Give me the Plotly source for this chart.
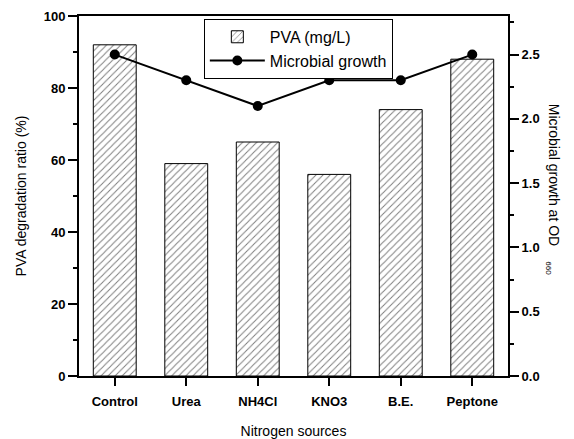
import plotly.graph_objects as go

categories = ["Control", "Urea", "NH4Cl", "KNO3", "B.E.", "Peptone"]
pva_degradation = [92, 59, 65, 56, 74, 88]
microbial_growth = [2.5, 2.3, 2.1, 2.3, 2.3, 2.5]

fig = go.Figure()
fig.add_trace(go.Bar(
    x=categories, y=pva_degradation, name="PVA (mg/L)", width=0.6,
    marker=dict(color="white", line=dict(color="black", width=1),
                pattern=dict(shape="/", fgcolor="black", bgcolor="white", size=5, solidity=0.2)),
    yaxis="y"))
fig.add_trace(go.Scatter(
    x=categories, y=microbial_growth, name="Microbial growth", mode="lines+markers",
    line=dict(color="black", width=2), marker=dict(color="black", size=10, symbol="circle"),
    yaxis="y2"))

tickfont = dict(family="Liberation Sans", size=13, color="black", weight="bold")
titlefont = dict(family="Liberation Sans", size=14, color="black")
fig.update_layout(
    width=574, height=439,
    margin=dict(l=79, r=66, t=16, b=63),
    plot_bgcolor="white", paper_bgcolor="white",
    showlegend=True,
    legend=dict(x=0.291, y=0.992, xanchor="left", yanchor="top",
                bordercolor="black", borderwidth=1, bgcolor="white",
                font=dict(family="Liberation Sans", size=16, color="black"),
                tracegroupgap=0, itemwidth=55),
    xaxis=dict(range=[-0.5, 5.5], showline=True, linecolor="black", linewidth=2, mirror=True,
               ticks="outside", ticklen=8, tickwidth=2, tickcolor="black", tickfont=tickfont,
               ticklabelstandoff=4,
               title=dict(text="Nitrogen sources", font=titlefont, standoff=22),
               showgrid=False, automargin=False),
    yaxis=dict(range=[0, 100], dtick=20, showline=True, linecolor="black", linewidth=2,
               ticks="outside", ticklen=9, tickwidth=2, tickcolor="black", tickfont=tickfont,
               minor=dict(ticks="outside", ticklen=4, dtick=10, tickcolor="black"),
               title=dict(text="PVA degradation ratio (%)", font=titlefont, standoff=14),
               showgrid=False, zeroline=False, automargin=False),
    yaxis2=dict(range=[0, 2.8], tickvals=[0, 0.5, 1.0, 1.5, 2.0, 2.5],
                ticktext=["0.0", "0.5", "1.0", "1.5", "2.0", "2.5"],
                overlaying="y", side="right", showline=True, linecolor="black", linewidth=2,
                ticks="outside", ticklen=9, tickwidth=2, tickcolor="black", tickfont=tickfont,
                minor=dict(ticks="outside", ticklen=4, tickvals=[0.25, 0.75, 1.25, 1.75, 2.25, 2.75], tickcolor="black"),
                showgrid=False, zeroline=False, automargin=False),
)

fig.add_annotation(text="Microbial growth at OD", xref="paper", yref="paper", x=1.108, y=0.558,
                   xanchor="center", yanchor="middle",
                   textangle=90, showarrow=False, font=titlefont)
fig.add_annotation(text="660", xref="paper", yref="paper", x=1.095, y=0.30,
                   xanchor="center", yanchor="middle",
                   textangle=90, showarrow=False, font=dict(family="Liberation Sans", size=8, color="black"))

fig.write_html("out.html")
